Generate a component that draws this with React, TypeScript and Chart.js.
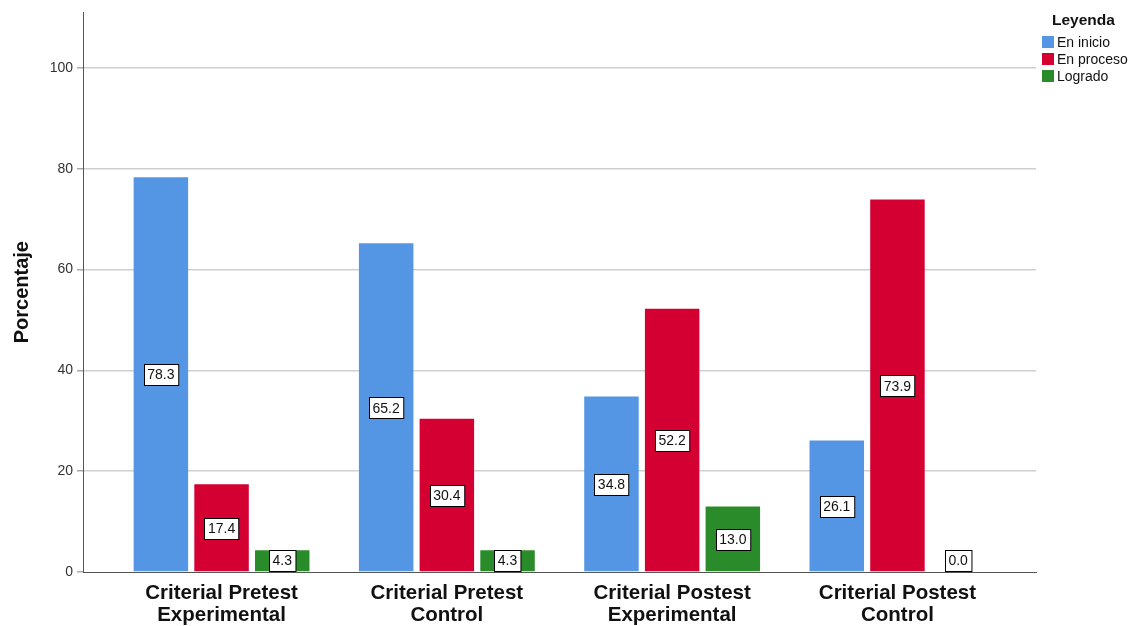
import React, { useEffect, useRef } from "react";
import { Chart, registerables } from "chart.js";

Chart.register(...registerables);

const categories: string[][] = [
  ["Criterial Pretest", "Experimental"],
  ["Criterial Pretest", "Control"],
  ["Criterial Postest", "Experimental"],
  ["Criterial Postest", "Control"],
];
const seriesNames = ["En inicio", "En proceso", "Logrado"];
const enInicio = [78.3, 65.2, 34.8, 26.1];
const enProceso = [17.4, 30.4, 52.2, 73.9];
const logrado = [4.3, 4.3, 13.0, 0.0];
const seriesColors = ["#5596E4", "#D50032", "#2A8B2A"];
const legendTitle = "Leyenda";
const yTitle = "Porcentaje";

const FONT = "'Liberation Sans', Arial, sans-serif";

const labelPlugin = {
  id: "boxLabels",
  afterDatasetsDraw(chart: any) {
    const ctx = chart.ctx;
    const base = chart.scales.y.getPixelForValue(0);
    ctx.save();
    ctx.font = `14px ${FONT}`;
    ctx.textAlign = "center";
    ctx.textBaseline = "middle";
    chart.data.datasets.forEach((ds: any, di: number) => {
      const meta = chart.getDatasetMeta(di);
      meta.data.forEach((bar: any, i: number) => {
        const v = ds.data[i];
        const txt = v.toFixed(1);
        const w = ctx.measureText(txt).width + 7;
        const h = 21;
        let cy = (bar.y + base) / 2;
        if (cy > base - h / 2 - 1) cy = base - h / 2 - 1;
        const x = Math.round(bar.x - w / 2) + 0.5;
        const y = Math.round(cy - h / 2) + 0.5;
        ctx.fillStyle = "#ffffff";
        ctx.fillRect(x, y, w, h);
        ctx.strokeStyle = "#000000";
        ctx.lineWidth = 1;
        ctx.strokeRect(x, y, w, h);
        ctx.fillStyle = "#111111";
        ctx.fillText(txt, bar.x, cy + 1);
      });
    });
    ctx.restore();
  },
};

const legendPlugin = {
  id: "customLegend",
  afterDraw(chart: any) {
    const ctx = chart.ctx;
    ctx.save();
    ctx.fillStyle = "#111";
    ctx.font = `bold 15.5px ${FONT}`;
    ctx.textAlign = "left";
    ctx.textBaseline = "middle";
    ctx.fillText(legendTitle, 1052, 21);
    ctx.font = `14px ${FONT}`;
    seriesNames.forEach((n, i) => {
      const y = 42 + i * 17;
      ctx.fillStyle = seriesColors[i];
      ctx.fillRect(1042, y - 6, 12, 12);
      ctx.fillStyle = "#111";
      ctx.fillText(n, 1057, y + 1);
    });
    ctx.restore();
  },
};

const X_EXTRA = 0.115;

export default function App() {
  const ref = useRef<HTMLCanvasElement | null>(null);
  useEffect(() => {
    if (!ref.current) return;
    const series = [enInicio, enProceso, logrado];
    const chart = new Chart(ref.current, {
      type: "bar",
      data: {
        labels: categories,
        datasets: series.map((d, i) => ({
          label: seriesNames[i],
          data: d,
          backgroundColor: seriesColors[i],
          borderWidth: 0,
          categoryPercentage: 0.808,
          barPercentage: 0.898,
        })),
      },
      options: {
        animation: false,
        responsive: false,
        maintainAspectRatio: false,
        layout: { padding: { top: 10, right: 102, left: 10, bottom: 0 } },
        plugins: {
          legend: { display: false },
          tooltip: { enabled: false },
        },
        scales: {
          x: {
            grid: { display: false, drawTicks: false },
            border: { display: true, color: "#555", width: 1 },
            afterBuildTicks: (s: any) => {
              s._startValue = s._startValue - X_EXTRA;
              s._valueRange = s._valueRange + 2 * X_EXTRA;
            },
            ticks: {
              color: "#111",
              font: { family: FONT, size: 20.5, weight: "bold", lineHeight: 1.07 },
              padding: 10,
              maxRotation: 0,
              autoSkip: false,
            },
            afterFit: (s: any) => {
              s.height = 54;
            },
          },
          y: {
            min: 0,
            max: 111,
            afterBuildTicks: (axis: any) => {
              axis.ticks = axis.ticks.filter((t: any) => t.value % 20 === 0);
            },
            ticks: {
              stepSize: 20,
              color: "#333",
              font: { family: FONT, size: 14 },
              padding: 4,
            },
            grid: {
              color: (c: any) => (c.tick && c.tick.value === 0 ? "rgba(0,0,0,0)" : "#cfcfcf"),
              lineWidth: 1.5,
              tickLength: 6,
              tickColor: "#aaa",
            },
            border: { display: true, color: "#555", width: 1 },
            title: {
              display: true,
              text: yTitle,
              color: "#111",
              font: { family: FONT, size: 20, weight: "bold" },
              padding: { top: 0, bottom: 8 },
            },
            afterFit: (s: any) => {
              s.width = 73;
            },
          },
        },
      },
      plugins: [labelPlugin, legendPlugin],
    });
    return () => chart.destroy();
  }, []);
  return (
    <div style={{ position: "fixed", left: 0, top: 0, width: 1138, height: 626, background: "#fff" }}>
      <canvas ref={ref} width={1138} height={626} style={{ display: "block" }} />
    </div>
  );
}
